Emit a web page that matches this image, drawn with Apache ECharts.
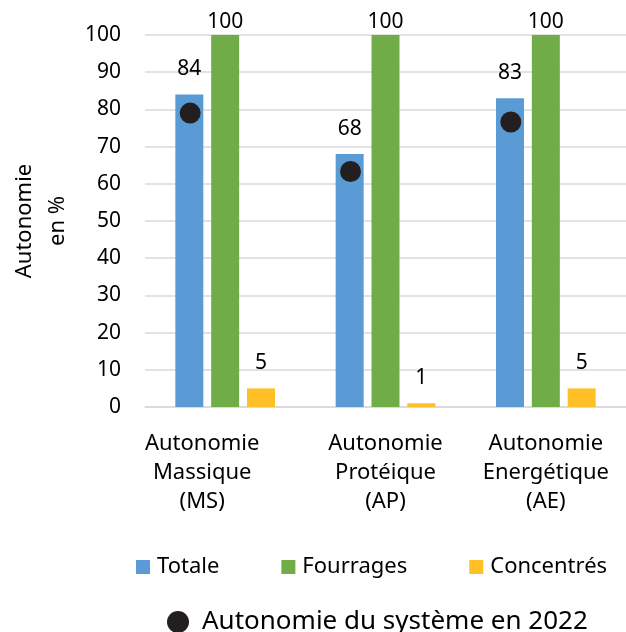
<!DOCTYPE html>
<html>
<head>
<meta charset="utf-8">
<script src="https://cdn.jsdelivr.net/npm/echarts@6/dist/echarts.min.js"></script>
<style>
  html, body { margin: 0; padding: 0; background: #fff; }
  #chart { width: 626px; height: 632px; }
</style>
</head>
<body>
<div id="chart"></div>
<script>
const categories = ['Autonomie\nMassique\n(MS)', 'Autonomie\nProtéique\n(AP)', 'Autonomie\nEnergétique\n(AE)']
const totale = [84, 68, 83]
const fourrages = [100, 100, 100]
const concentres = [5, 1, 5]
const systeme2022 = [79, 63.3, 76.6]
const yTicks = [0, 10, 20, 30, 40, 50, 60, 70, 80, 90, 100]

const font = 'Noto Sans'
const chart = echarts.init(document.getElementById('chart'))

const labelStyle = {
  show: true,
  position: 'top',
  distance: 15,
  color: '#000',
  fontFamily: font,
  fontSize: 21
}

chart.setOption({
  animation: false,
  textStyle: { fontFamily: font, color: '#000' },
  grid: { left: 145, right: 0, top: 35, bottom: 225, outerBoundsMode: 'none', containLabel: false },
  legend: [{
    data: ['Totale', 'Fourrages', 'Concentrés'],
    left: 131,
    top: 551,
    itemWidth: 14,
    itemHeight: 14,
    itemGap: 62,
    icon: 'rect',
    textStyle: { fontFamily: font, fontSize: 22, color: '#000', padding: [0, 0, 0, 2] }
  }, {
    data: ['Autonomie du système en 2022'],
    left: 162,
    top: 604,
    itemWidth: 22,
    itemHeight: 22,
    icon: 'circle',
    textStyle: { fontFamily: font, fontSize: 26, color: '#000', padding: [0, 0, 0, 8] }
  }],
  xAxis: {
    type: 'category',
    data: categories,
    axisLine: { show: true, lineStyle: { color: '#d9d9d9', width: 1.5 } },
    axisTick: { show: false },
    axisLabel: {
      interval: 0,
      color: '#000',
      fontFamily: font,
      fontSize: 22,
      lineHeight: 29,
      margin: 22,
      formatter: (value, idx) => idx === 0 ? '{s|' + value.split('\n').join('}\n{s|') + '}' : value,
      rich: {
        s: { fontFamily: font, fontSize: 22, lineHeight: 29, color: '#000', padding: [0, 46, 0, 0] }
      }
    }
  },
  yAxis: {
    type: 'value',
    min: yTicks[0],
    max: yTicks[yTicks.length - 1],
    interval: 10,
    name: 'Autonomie\nen %',
    nameLocation: 'middle',
    nameRotate: 90,
    nameGap: 68,
    nameTextStyle: { color: '#000', fontFamily: font, fontSize: 22, lineHeight: 33 },
    axisLine: { show: false },
    axisTick: { show: false },
    axisLabel: { color: '#000', fontFamily: font, fontSize: 21, margin: 24 },
    splitLine: { lineStyle: { color: '#d9d9d9', width: 1.5 } }
  },
  series: [{
    name: 'Totale',
    type: 'bar',
    data: totale,
    barWidth: 28,
    barGap: '28%',
    itemStyle: { color: '#5B9BD5' },
    label: labelStyle
  }, {
    name: 'Fourrages',
    type: 'bar',
    data: fourrages,
    barWidth: 28,
    itemStyle: { color: '#70AD47' },
    label: Object.assign({}, labelStyle, { distance: 2 })
  }, {
    name: 'Concentrés',
    type: 'bar',
    data: concentres,
    barWidth: 28,
    itemStyle: { color: '#FFBF26' },
    label: labelStyle
  }, {
    name: 'Autonomie du système en 2022',
    type: 'scatter',
    data: systeme2022,
    symbol: 'circle',
    symbolSize: 21,
    symbolOffset: [-35, 0],
    itemStyle: { color: '#231F20', opacity: 1 },
    z: 5
  }]
})
</script>
</body>
</html>
